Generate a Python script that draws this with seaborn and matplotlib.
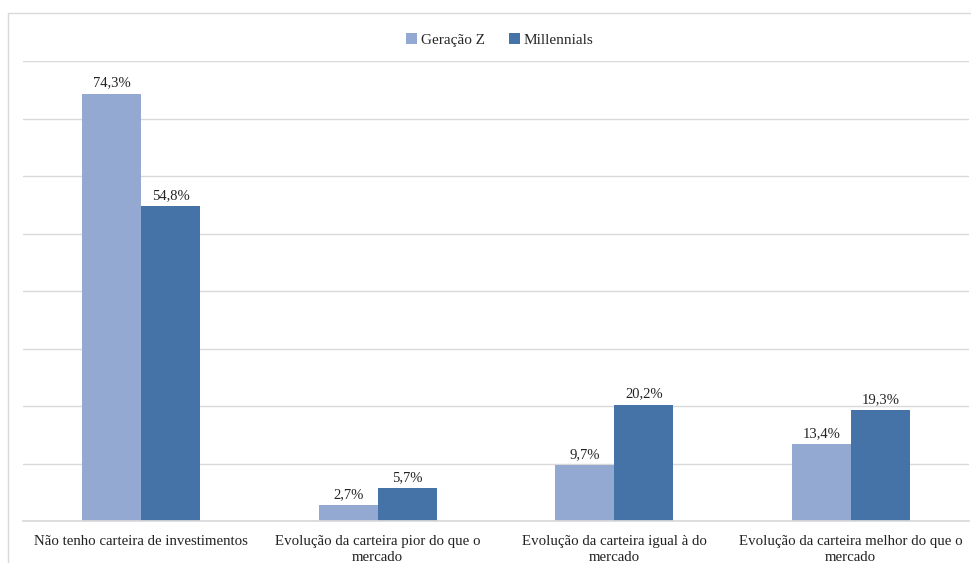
import matplotlib
matplotlib.use("Agg")
import matplotlib.pyplot as plt
from matplotlib.patches import Rectangle
import seaborn as sns
import pandas as pd

categories = [
    "Não tenho carteira de investimentos",
    "Evolução da carteira pior do que o\nmercado",
    "Evolução da carteira igual à do\nmercado",
    "Evolução da carteira melhor do que o\nmercado",
]
series = ["Geração Z", "Millennials"]
gen_z = [74.3, 2.7, 9.7, 13.4]
millennials = [54.8, 5.7, 20.2, 19.3]
colors = ["#94A9D1", "#4572A7"]

df = pd.DataFrame({
    "categoria": categories * 2,
    "grupo": [series[0]] * 4 + [series[1]] * 4,
    "valor": gen_z + millennials,
})

sns.set_theme(style="white")
plt.rcParams["font.family"] = ["Liberation Serif", "DejaVu Serif"]

fig = plt.figure(figsize=(9.71, 5.63), dpi=100)
ax = fig.add_axes([23 / 971, 1 - 521 / 563, 946 / 971, 460 / 563])

sns.barplot(data=df, x="categoria", y="valor", hue="grupo", order=categories,
            hue_order=series, palette=colors, width=0.5, saturation=1,
            edgecolor="none", linewidth=0, ax=ax, legend=False)

ax.set_ylim(0, 80)
ax.set_yticks(range(0, 81, 10))
ax.yaxis.grid(True, color="#D9D9D9", linewidth=1)
ax.set_axisbelow(True)
ax.tick_params(axis="y", left=False, labelleft=False)
ax.tick_params(axis="x", bottom=False, labelsize=10.7, colors="#222222", pad=4)
for lbl in ax.get_xticklabels():
    lbl.set_horizontalalignment("center")
    lbl.set_multialignment("center")
    lbl.set_linespacing(1.3)
for s in ["left", "right", "top"]:
    ax.spines[s].set_visible(False)
ax.spines["bottom"].set_color("#D9D9D9")
ax.set_xlabel("")
ax.set_ylabel("")

for container in ax.containers:
    ax.bar_label(container, labels=[f"{v:.1f}%".replace(".", ",") for v in container.datavalues],
                 padding=3, fontsize=10.5, color="#222222")

handles = [Rectangle((0, 0), 1, 1, facecolor=c, edgecolor="none") for c in colors]
fig.legend(handles, series, loc="center", bbox_to_anchor=(500 / 971, 1 - 40 / 563),
           ncol=2, frameon=False, fontsize=11, handlelength=0.7, handleheight=0.7,
           handletextpad=0.25, columnspacing=1.6)

# light outer frame of the chart area
fig.patches.append(Rectangle((8 / 971, -0.1), 1.2, 1 - 13 / 563 + 0.1, transform=fig.transFigure,
                             facecolor="none", edgecolor="#D9D9D9", linewidth=1, zorder=0))

fig.savefig("out.png", dpi=100)
